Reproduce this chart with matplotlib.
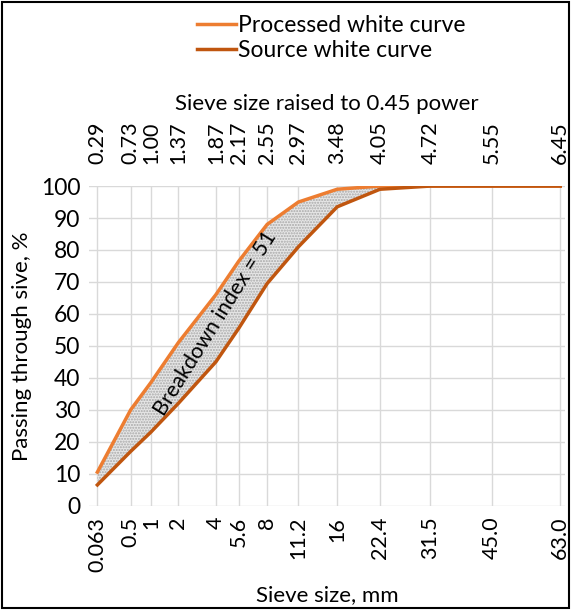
import numpy as np
import matplotlib.pyplot as plt
from matplotlib.patches import Rectangle

plt.rcParams['font.family'] = ['Lato', 'DejaVu Sans']

sieve_mm = [0.063, 0.5, 1, 2, 4, 5.6, 8, 11.2, 16, 22.4, 31.5, 45.0, 63.0]
bottom_labels = ['0.063', '0.5', '1', '2', '4', '5.6', '8', '11.2', '16', '22.4', '31.5', '45.0', '63.0']
processed = [10.5, 30, 38.5, 51, 66, 76.5, 88, 95, 99, 100, 100, 100, 100]
source = [6.5, 17, 23, 32, 45, 55.5, 69.5, 81, 93.5, 99, 100, 100, 100]

c_proc = '#ED7D31'
c_src = '#C0560F'

x = np.array(sieve_mm) ** 0.45
top_labels = ['%.2f' % v for v in x]

fig = plt.figure(figsize=(5.71, 6.10), dpi=100)
ax = fig.add_axes([0.155, 0.171, 0.835, 0.524])

ax.fill_between(x, source, processed, facecolor='#e6e6e6', edgecolor='#a8a8a8',
                hatch='......', linewidth=0)
ax.plot(x, processed, color=c_proc, lw=2.5, label='Processed white curve')
ax.plot(x, source, color=c_src, lw=2.5, label='Source white curve')

ax.set_xlim(0.17, 6.52)
ax.set_ylim(0, 100)
ax.set_yticks(range(0, 101, 10))
ax.set_xticks(x)
ax.set_xticklabels(bottom_labels, rotation=90, fontsize=15.5)
ax.tick_params(axis='y', labelsize=16.5, length=0, pad=6)
ax.tick_params(axis='x', length=0, pad=8)
ax.grid(True, color='#d9d9d9', lw=1)
ax.set_axisbelow(True)
for s in ax.spines.values():
    s.set_visible(False)

top = ax.secondary_xaxis('top')
top.set_xticks(x)
top.set_xticklabels(top_labels, rotation=90, fontsize=15.5)
top.tick_params(length=0, pad=16)
for s in top.spines.values():
    s.set_visible(False)
top.set_xlabel('Sieve size raised to 0.45 power', fontsize=16, labelpad=8)

ax.set_xlabel('Sieve size, mm', fontsize=16, labelpad=10)
ax.set_ylabel('Passing through sive, %', fontsize=16, labelpad=6)

ax.text(1.86, 57, 'Breakdown index = 51', rotation=58, fontsize=15.5,
        ha='center', va='center', rotation_mode='anchor')

fig.legend(loc='upper center', bbox_to_anchor=(0.58, 1.01), frameon=False,
           fontsize=16.5, handlelength=1.7, handletextpad=0.1, labelspacing=0.2)

fig.add_artist(Rectangle((0.004, 0.004), 0.992, 0.992, transform=fig.transFigure,
                         fill=False, edgecolor='black', lw=1.5))

fig.savefig('out.png', dpi=100)
